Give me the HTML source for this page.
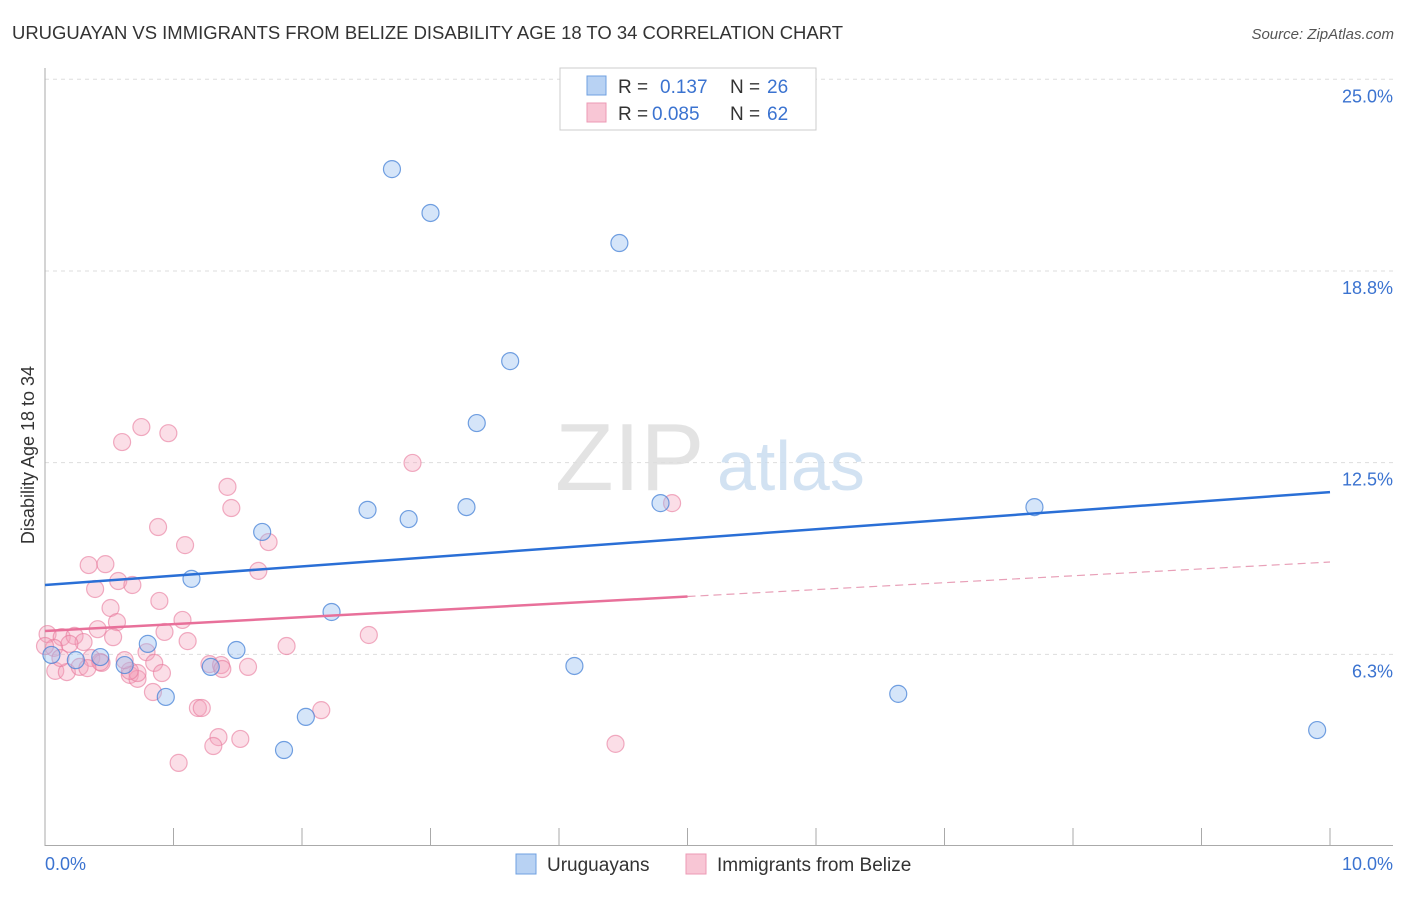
<!DOCTYPE html>
<html><head><meta charset="utf-8"><style>
body{margin:0;background:#fff;font-family:"Liberation Sans",sans-serif;}
svg text{font-family:"Liberation Sans",sans-serif;}
</style></head><body>
<svg id="chart" width="1406" height="892" viewBox="0 0 1406 892" xmlns="http://www.w3.org/2000/svg">
<text x="12" y="39" font-size="18" fill="#333" textLength="831" lengthAdjust="spacingAndGlyphs">URUGUAYAN VS IMMIGRANTS FROM BELIZE DISABILITY AGE 18 TO 34 CORRELATION CHART</text>
<text x="1394" y="39" font-size="15" fill="#555" text-anchor="end" font-style="italic">Source: ZipAtlas.com</text>
<g id="grid"></g>
<text x="555" y="490" font-size="96" fill="#ddd" font-family="Liberation Serif" opacity="0.8">ZIP</text>
<text x="717" y="490" font-size="70" fill="#c8dcf0" opacity="0.8">atlas</text>
<g id="marks"></g>
<text transform="translate(34,455) rotate(-90)" font-size="18" fill="#333" text-anchor="middle">Disability Age 18 to 34</text>
<text x="45" y="870" font-size="18" fill="#3b73d0">0.0%</text>
<text x="1393" y="870" font-size="18" fill="#3b73d0" text-anchor="end">10.0%</text>
<g>
<rect x="560" y="68" width="256" height="62" fill="#fff" stroke="#ccc"/>
<rect x="587" y="76" width="19" height="19" fill="#b8d2f3" stroke="#6fa0e0"/>
<rect x="587" y="103" width="19" height="19" fill="#f8c6d5" stroke="#ec9ab5"/>
<text x="618" y="93" font-size="19" fill="#333">R = </text><text x="660" y="93" font-size="19" fill="#3b73d0">0.137</text>
<text x="730" y="93" font-size="19" fill="#333">N = </text><text x="767" y="93" font-size="19" fill="#3b73d0">26</text>
<text x="618" y="120" font-size="19" fill="#333">R = </text><text x="652" y="120" font-size="19" fill="#3b73d0">0.085</text>
<text x="730" y="120" font-size="19" fill="#333">N = </text><text x="767" y="120" font-size="19" fill="#3b73d0">62</text>
</g>
<g>
<rect x="516" y="854" width="20" height="20" fill="#b8d2f3" stroke="#6fa0e0"/>
<text x="547" y="871" font-size="19" fill="#333">Uruguayans</text>
<rect x="686" y="854" width="20" height="20" fill="#f8c6d5" stroke="#ec9ab5"/>
<text x="717" y="871" font-size="19" fill="#333">Immigrants from Belize</text>
</g>
</svg>
<script>
const yTicks=[25,18.75,12.5,6.25];
const yTickLabels=["25.0%","18.8%","12.5%","6.3%"];
const xTicks=[0,1,2,3,4,5,6,7,8,9,10];
const blueX=[2.70,3.00,4.47,3.62,3.36,2.51,2.83,3.28,4.79,7.70,1.69,1.14,2.23,0.80,1.49,0.43,0.62,1.29,4.12,0.94,6.64,2.03,1.86,9.90,0.05,0.24];
const blueY=[22.07,20.64,19.66,15.81,13.79,10.96,10.66,11.05,11.18,11.05,10.24,8.71,7.63,6.59,6.39,6.16,5.90,5.84,5.87,4.86,4.96,4.21,3.13,3.78,6.23,6.06];
const pinkX=[0.60,0.75,0.96,2.86,1.42,1.45,4.88,0.88,1.09,1.74,0.34,0.47,0.57,0.68,0.39,1.66,0.89,0.51,0.56,1.07,0.41,0.93,0.02,0.13,0.23,0.30,0.53,1.11,1.88,2.52,0.79,0.19,0.07,0.36,0.44,0.85,1.28,1.37,1.58,0.08,0.17,0.27,0.66,0.72,0.91,0.84,1.19,1.22,2.15,1.35,1.52,1.31,4.44,1.04,0.72,0.12,0.43,0.0,0.66,1.38,0.62,0.33];
const pinkY=[13.17,13.66,13.46,12.49,11.71,11.02,11.18,10.40,9.81,9.91,9.16,9.19,8.64,8.51,8.38,8.97,7.99,7.76,7.30,7.37,7.07,6.98,6.91,6.81,6.85,6.65,6.81,6.68,6.52,6.88,6.32,6.59,6.46,6.13,5.97,5.97,5.93,5.90,5.84,5.71,5.67,5.84,5.58,5.45,5.64,5.02,4.50,4.50,4.43,3.55,3.49,3.26,3.33,2.71,5.64,6.13,6.00,6.52,5.71,5.77,6.06,5.80];
const blueTrend=[8.51,11.54];
const pinkTrend=[7.01,9.26];
const pinkSolidEnd=5.0;
const X0=45,X1=1330,YB=846,PX=30.67;
const sx=v=>X0+(X1-X0)*v/10;
const sy=v=>YB-v*PX;
const NS="http://www.w3.org/2000/svg";
const grid=document.getElementById('grid');
const marks=document.getElementById('marks');
function mk(tag,attrs,parent){const e=document.createElementNS(NS,tag);for(const k in attrs)e.setAttribute(k,attrs[k]);parent.appendChild(e);return e;}
yTicks.forEach((t,i)=>{
 const l=mk('line',{x1:45,x2:1393,y1:sy(t),y2:sy(t),stroke:'#ddd','stroke-dasharray':'4,4'},grid);
 
 
 const tx=mk('text',{x:1393,y:sy(t)+23,'font-size':18,fill:'#3b73d0','text-anchor':'end'},grid);
 tx.textContent=yTickLabels[i];
 
 
});
const ax=mk('line',{x1:45,x2:45,y1:68,y2:846,stroke:'#aaa'},grid);


const bx=mk('line',{x1:45,x2:1393,y1:845.5,y2:845.5,stroke:'#aaa'},grid);


xTicks.forEach(t=>{
 const l=mk('line',{x1:sx(t),x2:sx(t),y1:828,y2:846,stroke:'#aaa'},grid);
 
 
});
pinkX.forEach((x,i)=>{
 const c=mk('circle',{cx:sx(x),cy:sy(pinkY[i]),r:8.5,fill:'rgba(244,160,185,0.35)',stroke:'rgba(232,120,155,0.6)','stroke-width':1.2},marks);
 
 
});
blueX.forEach((x,i)=>{
 const c=mk('circle',{cx:sx(x),cy:sy(blueY[i]),r:8.5,fill:'rgba(150,190,240,0.4)',stroke:'rgba(70,130,215,0.75)','stroke-width':1.2},marks);
 
 
});
const pm=pinkTrend[0]+(pinkTrend[1]-pinkTrend[0])*pinkSolidEnd/10;
const pl=mk('line',{x1:sx(0),y1:sy(pinkTrend[0]),x2:sx(pinkSolidEnd),y2:sy(pm),stroke:'#e8709a','stroke-width':2.5},marks);


const pd=mk('line',{x1:sx(pinkSolidEnd),y1:sy(pm),x2:sx(10),y2:sy(pinkTrend[1]),stroke:'#e8a0b8','stroke-width':1.2,'stroke-dasharray':'8,5'},marks);


const bl=mk('line',{x1:sx(0),y1:sy(blueTrend[0]),x2:sx(10),y2:sy(blueTrend[1]),stroke:'#2a6fd6','stroke-width':2.5},marks);


</script>
</body></html>
